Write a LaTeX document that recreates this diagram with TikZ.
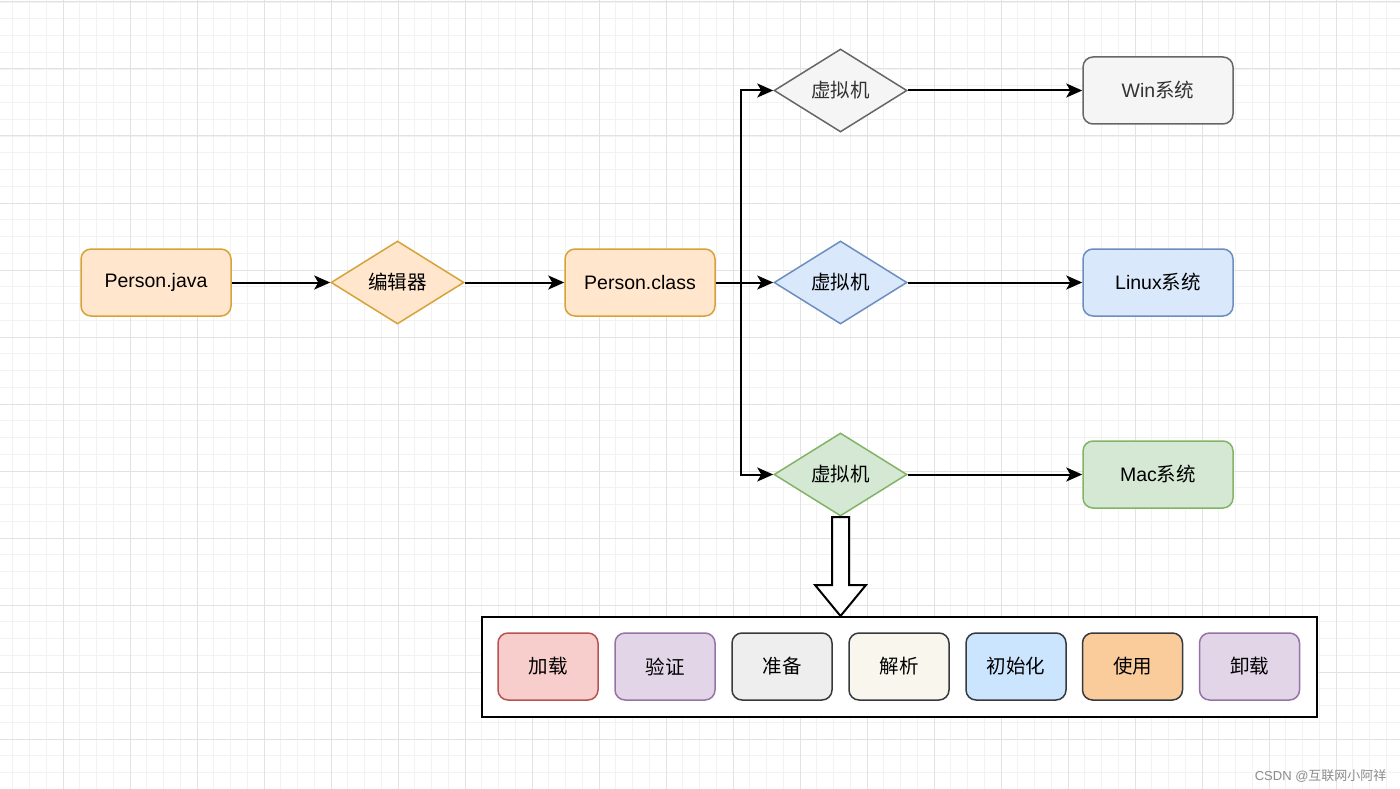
\documentclass[tikz,border=0pt]{standalone}
\usepackage{fontspec}
\newfontfamily\cjk{Noto Sans CJK SC}
\newfontfamily\lat{Liberation Sans}
\usetikzlibrary{shapes.geometric,arrows.meta}
\definecolor{orF}{HTML}{FFE6CC}\definecolor{orD}{HTML}{D6A33A}
\definecolor{grF}{HTML}{F5F5F5}\definecolor{grD}{HTML}{666666}
\definecolor{blF}{HTML}{DAE8FC}\definecolor{blD}{HTML}{6C8EBF}
\definecolor{gnF}{HTML}{D5E8D4}\definecolor{gnD}{HTML}{82B366}
\definecolor{rdF}{HTML}{F8CECC}\definecolor{rdD}{HTML}{B85450}
\definecolor{puF}{HTML}{E1D5E7}\definecolor{puD}{HTML}{9673A6}
\definecolor{dkD}{HTML}{36393D}
\definecolor{g2F}{HTML}{EEEEEE}
\definecolor{ylF}{HTML}{F9F7ED}
\definecolor{b2F}{HTML}{CCE5FF}
\definecolor{o2F}{HTML}{FACC9C}
\definecolor{minorgrid}{HTML}{F2F2F2}
\definecolor{majorgrid}{HTML}{E2E2E2}
\tikzset{
  x=1pt,y=1pt,
  txt/.style={font=\fontsize{19.5}{23}\selectfont, text=black},
  rbox/.style={txt, rectangle, rounded corners=10pt, line width=1.5pt, minimum width=150pt, minimum height=67pt, inner sep=0pt},
  sbox/.style={txt, rectangle, rounded corners=10pt, line width=1.5pt, minimum width=100pt, minimum height=67pt, inner sep=0pt},
  dia/.style={txt, diamond, line width=1.5pt, minimum width=133pt, minimum height=83pt, inner sep=0pt, aspect=1.6},
  conn/.style={line width=2pt, -{Stealth[length=16pt,width=14pt,inset=4pt]}},
}
\begin{document}
\begin{tikzpicture}
\useasboundingbox (0,0) rectangle (1400,-789);
\fill[white] (0,0) rectangle (1400,-789);
% grid
\foreach \i in {0,...,84} { \draw[minorgrid, line width=0.8pt] (-4+16.75*\i,0) -- (-4+16.75*\i,-789); }
\foreach \i in {0,...,48} { \draw[minorgrid, line width=0.8pt] (0,-2-16.75*\i) -- (1400,-2-16.75*\i); }
\foreach \i in {0,...,21} { \draw[majorgrid, line width=1pt] (-4+67*\i,0) -- (-4+67*\i,-789); }
\foreach \i in {0,...,12} { \draw[majorgrid, line width=1pt] (0,-2-67*\i) -- (1400,-2-67*\i); }

% nodes
\node[rbox, draw=orD, fill=orF] (pj) at (156,-282.5) {\lat Person.java};
\node[dia, draw=orD, fill=orF] (ed) at (397.5,-282.5) {\cjk 编辑器};
\node[rbox, draw=orD, fill=orF] (pc) at (640,-282.5) {\lat Person.class};
\node[dia, draw=grD, fill=grF, text=black!80] (vm1) at (840.5,-90.5) {\cjk 虚拟机};
\node[dia, draw=blD, fill=blF] (vm2) at (840.5,-282.5) {\cjk 虚拟机};
\node[dia, draw=gnD, fill=gnF] (vm3) at (840.5,-474.5) {\cjk 虚拟机};
\node[rbox, draw=grD, fill=grF, text=black!80] (win) at (1158,-90.5) {\lat Win\cjk 系统};
\node[rbox, draw=blD, fill=blF] (lin) at (1158,-282.5) {\lat Linux\cjk 系统};
\node[rbox, draw=gnD, fill=gnF] (mac) at (1158,-474.5) {\lat Mac\cjk 系统};

% connectors
\draw[conn] (pj) -- (ed);
\draw[conn] (ed) -- (pc);
\draw[conn] (pc.east) -- ++(25,0) |- (vm1.west);
\draw[conn] (pc) -- (vm2);
\draw[conn] (pc.east) -- ++(25,0) |- (vm3.west);
\draw[conn] (vm1) -- (win);
\draw[conn] (vm2) -- (lin);
\draw[conn] (vm3) -- (mac);

% container
\node[draw=black, fill=white, line width=2pt, minimum width=835pt, minimum height=100pt, inner sep=0pt] (cont) at (899.5,-667) {};
\node[sbox, draw=rdD, fill=rdF] (s1) at (548,-666.5) {\cjk 加载};
\node[sbox, draw=puD, fill=puF] (s2) at (665,-666.5) {\cjk 验证};
\node[sbox, draw=dkD, fill=g2F] (s3) at (782,-666.5) {\cjk 准备};
\node[sbox, draw=dkD, fill=ylF] (s4) at (899,-666.5) {\cjk 解析};
\node[sbox, draw=dkD, fill=b2F] (s5) at (1016,-666.5) {\cjk 初始化};
\node[sbox, draw=dkD, fill=o2F] (s6) at (1132.5,-666.5) {\cjk 使用};
\node[sbox, draw=puD, fill=puF] (s7) at (1249.5,-666.5) {\cjk 卸载};

% big hollow arrow
\draw[fill=white, line width=2pt, line join=miter]
  (832,-517) -- (849,-517) -- (849,-585) -- (866,-585) -- (840.5,-616)
  -- (815,-585) -- (832,-585) -- cycle;

% watermark
\node[text=black!45, font=\fontsize{13}{15}\selectfont, anchor=east] (wm) at (1390,-776) {\lat CSDN @\cjk 互联网小阿祥};
\end{tikzpicture}
\end{document}
